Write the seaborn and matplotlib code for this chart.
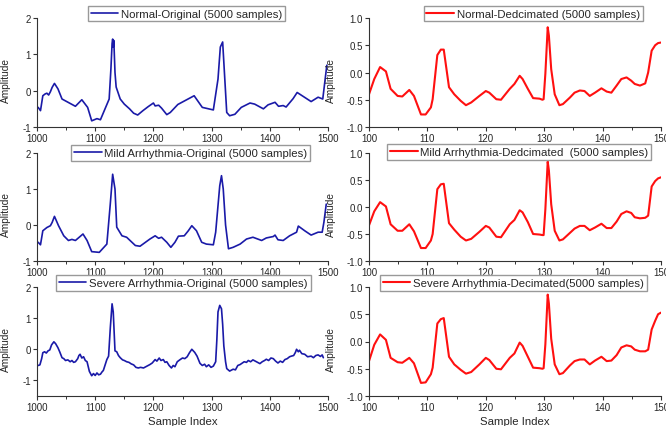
import seaborn as sns
import matplotlib.pyplot as plt
from matplotlib.ticker import MultipleLocator, FormatStrFormatter

# --- original signals (sample index 1000-1500) ---
normal_orig_x = [1002, 1006, 1010, 1014, 1017, 1020, 1023, 1026, 1030, 1036, 1043, 1066, 1077, 1087,
                 1094, 1103, 1109, 1124, 1127, 1129, 1130, 1131, 1132, 1134, 1136, 1143, 1150, 1159,
                 1166, 1173, 1182, 1191, 1200, 1203, 1209, 1214, 1223, 1229, 1242, 1270, 1284, 1303,
                 1311, 1315, 1319, 1326, 1331, 1340, 1351, 1366, 1374, 1389, 1397, 1409, 1415, 1423,
                 1428, 1440, 1447, 1471, 1483, 1491, 1498]
normal_orig_y = [-0.46, -0.55, -0.14, -0.09, -0.07, -0.12, -0.03, 0.09, 0.2, 0.05, -0.23, -0.43, -0.25, -0.46,
                 -0.83, -0.77, -0.8, -0.23, 0.6, 1.3, 1.42, 1.2, 1.38, 0.5, 0.1, -0.23, -0.37, -0.5,
                 -0.62, -0.67, -0.55, -0.44, -0.34, -0.42, -0.4, -0.48, -0.66, -0.6, -0.38, -0.14, -0.46, -0.53,
                 0.32, 1.2, 1.34, -0.6, -0.69, -0.65, -0.46, -0.34, -0.37, -0.5, -0.39, -0.32, -0.43, -0.41,
                 -0.45, -0.22, -0.05, -0.3, -0.18, -0.23, 0.7]

mild_orig_x = [1002, 1006, 1010, 1017, 1023, 1026, 1030, 1037, 1046, 1054, 1060, 1066, 1074, 1079,
               1086, 1094, 1107, 1120, 1126, 1130, 1134, 1137, 1146, 1154, 1169, 1177, 1194, 1203,
               1209, 1214, 1223, 1230, 1237, 1243, 1253, 1260, 1266, 1274, 1283, 1291, 1303, 1307,
               1314, 1317, 1320, 1324, 1329, 1337, 1349, 1360, 1371, 1386, 1394, 1406, 1409, 1414,
               1423, 1434, 1446, 1449, 1460, 1471, 1483, 1490, 1493, 1497]
mild_orig_y = [-0.48, -0.55, -0.16, -0.07, -0.02, 0.07, 0.24, -0.02, -0.3, -0.43, -0.4, -0.43, -0.32, -0.25,
               -0.43, -0.74, -0.76, -0.53, 0.6, 1.41, 1.0, -0.06, -0.3, -0.34, -0.57, -0.59, -0.39, -0.3,
               -0.37, -0.34, -0.48, -0.62, -0.48, -0.31, -0.3, -0.16, -0.02, -0.16, -0.48, -0.53, -0.55, -0.2,
               1.09, 1.37, 1.0, 0.0, -0.66, -0.62, -0.53, -0.39, -0.34, -0.43, -0.36, -0.32, -0.28, -0.41,
               -0.43, -0.3, -0.2, -0.03, -0.16, -0.28, -0.2, -0.2, 0.08, 0.58]

severe_orig_x = [1002, 1005, 1008, 1010, 1013, 1016, 1019, 1022, 1025, 1029, 1032, 1036, 1039, 1043,
                 1046, 1049, 1053, 1057, 1060, 1063, 1066, 1070, 1072, 1074, 1077, 1080, 1083, 1086,
                 1090, 1094, 1097, 1100, 1103, 1106, 1109, 1112, 1114, 1117, 1120, 1123, 1126, 1129,
                 1131, 1134, 1137, 1140, 1143, 1147, 1150, 1154, 1158, 1162, 1166, 1170, 1174, 1178,
                 1183, 1188, 1194, 1198, 1203, 1206, 1210, 1213, 1217, 1220, 1223, 1227, 1231, 1234,
                 1237, 1241, 1246, 1250, 1254, 1258, 1262, 1266, 1271, 1275, 1280, 1284, 1288, 1291,
                 1295, 1299, 1303, 1307, 1309, 1311, 1314, 1317, 1319, 1321, 1324, 1326, 1331, 1337,
                 1341, 1345, 1349, 1353, 1356, 1360, 1363, 1367, 1371, 1375, 1379, 1383, 1387, 1391,
                 1394, 1398, 1402, 1406, 1410, 1414, 1418, 1422, 1426, 1430, 1434, 1437, 1441, 1444,
                 1446, 1449, 1451, 1455, 1460, 1465, 1471, 1475, 1479, 1483, 1487, 1490, 1492]
severe_orig_y = [-0.52, -0.50, -0.30, -0.11, -0.08, -0.12, -0.05, -0.02, 0.14, 0.24, 0.18, 0.05, -0.08, -0.27,
                 -0.30, -0.36, -0.34, -0.40, -0.36, -0.42, -0.40, -0.30, -0.20, -0.16, -0.28, -0.24, -0.36, -0.40,
                 -0.71, -0.85, -0.78, -0.84, -0.76, -0.82, -0.80, -0.72, -0.68, -0.50, -0.33, -0.22, 0.70, 1.46,
                 1.20, -0.05, -0.08, -0.20, -0.27, -0.34, -0.36, -0.40, -0.42, -0.47, -0.50, -0.58, -0.60, -0.58,
                 -0.60, -0.55, -0.49, -0.44, -0.33, -0.38, -0.28, -0.36, -0.33, -0.42, -0.40, -0.52, -0.60, -0.52,
                 -0.56, -0.40, -0.33, -0.28, -0.30, -0.24, -0.11, 0.00, -0.10, -0.22, -0.45, -0.52, -0.48, -0.56,
                 -0.50, -0.58, -0.54, -0.40, 0.30, 1.20, 1.41, 1.30, 0.80, 0.11, -0.40, -0.62, -0.70, -0.64,
                 -0.66, -0.52, -0.49, -0.44, -0.40, -0.42, -0.36, -0.40, -0.34, -0.38, -0.42, -0.46, -0.40, -0.36,
                 -0.32, -0.36, -0.28, -0.30, -0.38, -0.44, -0.38, -0.42, -0.33, -0.30, -0.24, -0.22, -0.20, -0.10,
                 0.00, -0.08, -0.03, -0.14, -0.16, -0.24, -0.22, -0.27, -0.20, -0.18, -0.23, -0.18, -0.27]

# --- decimated signals (index 100-150) ---
dec_x = [100.0, 100.9, 101.9, 102.9, 103.7, 104.9, 105.7, 106.9, 107.7, 108.9, 109.7, 110.6, 110.9,
         111.7, 112.3, 112.8, 113.7, 114.6, 115.7, 116.6, 117.5, 118.9, 120.0, 120.6, 121.8, 122.6,
         124.1, 124.9, 125.8, 126.3, 127.2, 128.1, 129.2, 129.7, 129.9, 130.2, 130.6, 130.8, 131.2,
         131.8, 132.6, 133.2, 134.4, 135.2, 136.1, 136.9, 137.8, 138.7, 139.8, 140.7, 141.5, 142.4,
         143.2, 144.1, 144.9, 145.5, 146.4, 147.3, 147.8, 148.4, 149.0, 149.5, 150.0]
normal_dec_y = [-0.40, -0.12, 0.10, 0.02, -0.30, -0.43, -0.44, -0.32, -0.43, -0.77, -0.77, -0.64, -0.49,
                0.32, 0.42, 0.42, -0.27, -0.40, -0.52, -0.60, -0.55, -0.43, -0.34, -0.37, -0.49, -0.50,
                -0.30, -0.21, -0.06, -0.12, -0.30, -0.47, -0.48, -0.50, -0.49, -0.02, 0.83, 0.68, 0.06,
                -0.40, -0.60, -0.58, -0.46, -0.37, -0.33, -0.34, -0.43, -0.37, -0.29, -0.35, -0.37, -0.24,
                -0.12, -0.09, -0.15, -0.21, -0.24, -0.20, 0.00, 0.40, 0.50, 0.54, 0.55]
mild_dec_y = [-0.34, -0.08, 0.09, 0.01, -0.32, -0.44, -0.44, -0.32, -0.45, -0.76, -0.76, -0.62, -0.50,
              0.33, 0.42, 0.43, -0.30, -0.42, -0.55, -0.62, -0.59, -0.46, -0.35, -0.38, -0.55, -0.56,
              -0.32, -0.24, -0.06, -0.10, -0.28, -0.50, -0.51, -0.52, -0.52, -0.04, 0.84, 0.68, 0.05,
              -0.44, -0.62, -0.60, -0.48, -0.40, -0.35, -0.35, -0.43, -0.38, -0.31, -0.39, -0.39, -0.27,
              -0.13, -0.08, -0.11, -0.19, -0.21, -0.20, -0.16, 0.38, 0.48, 0.53, 0.55]
severe_dec_y = [-0.36, -0.06, 0.13, 0.03, -0.30, -0.38, -0.39, -0.30, -0.40, -0.76, -0.75, -0.60, -0.48,
                0.33, 0.41, 0.43, -0.28, -0.42, -0.52, -0.59, -0.56, -0.42, -0.30, -0.34, -0.50, -0.51,
                -0.30, -0.22, -0.02, -0.08, -0.28, -0.48, -0.49, -0.50, -0.49, -0.05, 0.86, 0.70, 0.05,
                -0.42, -0.60, -0.58, -0.44, -0.36, -0.33, -0.33, -0.42, -0.35, -0.28, -0.36, -0.35, -0.25,
                -0.11, -0.07, -0.09, -0.15, -0.18, -0.18, -0.15, 0.22, 0.38, 0.50, 0.53]

orig_labels = ["Normal-Original (5000 samples)",
               "Mild Arrhythmia-Original (5000 samples)",
               "Severe Arrhythmia-Original (5000 samples)"]
dec_labels = ["Normal-Dedcimated (5000 samples)",
              "Mild Arrhythmia-Dedcimated  (5000 samples)",
              "Severe Arrhythmia-Decimated(5000 samples)"]

sns.set_style("ticks")
plt.rcParams['font.family'] = ['Liberation Sans', 'DejaVu Sans']
plt.rcParams['axes.unicode_minus'] = False

W, H = 666, 427
fig = plt.figure(figsize=(W / 100, H / 100), dpi=100)

# axes boxes in pixels: (left, top, right, bottom)
row_px = [(19, 128), (154, 262), (288, 397)]
col_px = [(37, 328), (369, 661)]

def px_axes(x0, x1, top, bottom):
    return fig.add_axes([x0 / W, 1 - bottom / H, (x1 - x0) / W, (bottom - top) / H])

orig_series = [(normal_orig_x, normal_orig_y), (mild_orig_x, mild_orig_y), (severe_orig_x, severe_orig_y)]
dec_series = [normal_dec_y, mild_dec_y, severe_dec_y]
orig_leg_pos = [(0.515, 1.04), (0.529, 0.998), (0.503, 1.035)]
dec_leg_pos = [(0.562, 1.04), (0.515, 1.012), (0.494, 1.035)]

blue = '#1a1aa8'
red = '#ff1010'

def style_axis(ax):
    sns.despine(ax=ax)
    for sp in ['left', 'bottom']:
        ax.spines[sp].set_linewidth(0.8)
        ax.spines[sp].set_color('#333333')
    ax.tick_params(which='major', direction='out', length=3, width=0.8, labelsize=7, pad=1.5, color='#333333')
    ax.tick_params(axis='x', which='minor', direction='out', length=2, width=0.7, color='#333333')

for i, (top, bottom) in enumerate(row_px):
    # left column: original
    ax = px_axes(col_px[0][0], col_px[0][1], top, bottom)
    xs, ys = orig_series[i]
    sns.lineplot(x=xs, y=ys, ax=ax, color=blue, lw=1.2, estimator=None, sort=False, label=orig_labels[i])
    ax.set_xlim(1000, 1500)
    ax.set_ylim(-1.5 if i == 2 else -1, 2)
    ax.xaxis.set_major_locator(MultipleLocator(100))
    ax.xaxis.set_minor_locator(MultipleLocator(50))
    ax.yaxis.set_major_locator(MultipleLocator(1))
    style_axis(ax)
    ax.set_ylabel("Amplitude", fontsize=7.3, labelpad=0)
    ax.yaxis.set_label_coords(-0.09, 0.44)
    ax.legend(loc='center', bbox_to_anchor=orig_leg_pos[i], fontsize=8.2, frameon=True, fancybox=False,
              edgecolor='#999999', framealpha=1, borderpad=0.25, handlelength=2.4, handletextpad=0.25,
              borderaxespad=0)
    if i == 2:
        ax.set_xlabel("Sample Index", fontsize=8.2, labelpad=3)
    else:
        ax.set_xlabel("")

    # right column: decimated
    ax = px_axes(col_px[1][0], col_px[1][1], top, bottom)
    sns.lineplot(x=dec_x, y=dec_series[i], ax=ax, color=red, lw=1.5, estimator=None, sort=False, label=dec_labels[i])
    ax.set_xlim(100, 150)
    ax.set_ylim(-1, 1)
    ax.xaxis.set_major_locator(MultipleLocator(10))
    ax.xaxis.set_minor_locator(MultipleLocator(5))
    ax.yaxis.set_major_locator(MultipleLocator(0.5))
    ax.yaxis.set_major_formatter(FormatStrFormatter('%.1f'))
    style_axis(ax)
    ax.set_ylabel("Amplitude", fontsize=7.3, labelpad=0)
    ax.yaxis.set_label_coords(-0.113, 0.44)
    ax.legend(loc='center', bbox_to_anchor=dec_leg_pos[i], fontsize=8.2, frameon=True, fancybox=False,
              edgecolor='#999999', framealpha=1, borderpad=0.25, handlelength=2.4, handletextpad=0.25,
              borderaxespad=0)
    if i == 2:
        ax.set_xlabel("Sample Index", fontsize=8.2, labelpad=3)
    else:
        ax.set_xlabel("")

fig.savefig("out.png", dpi=100)
